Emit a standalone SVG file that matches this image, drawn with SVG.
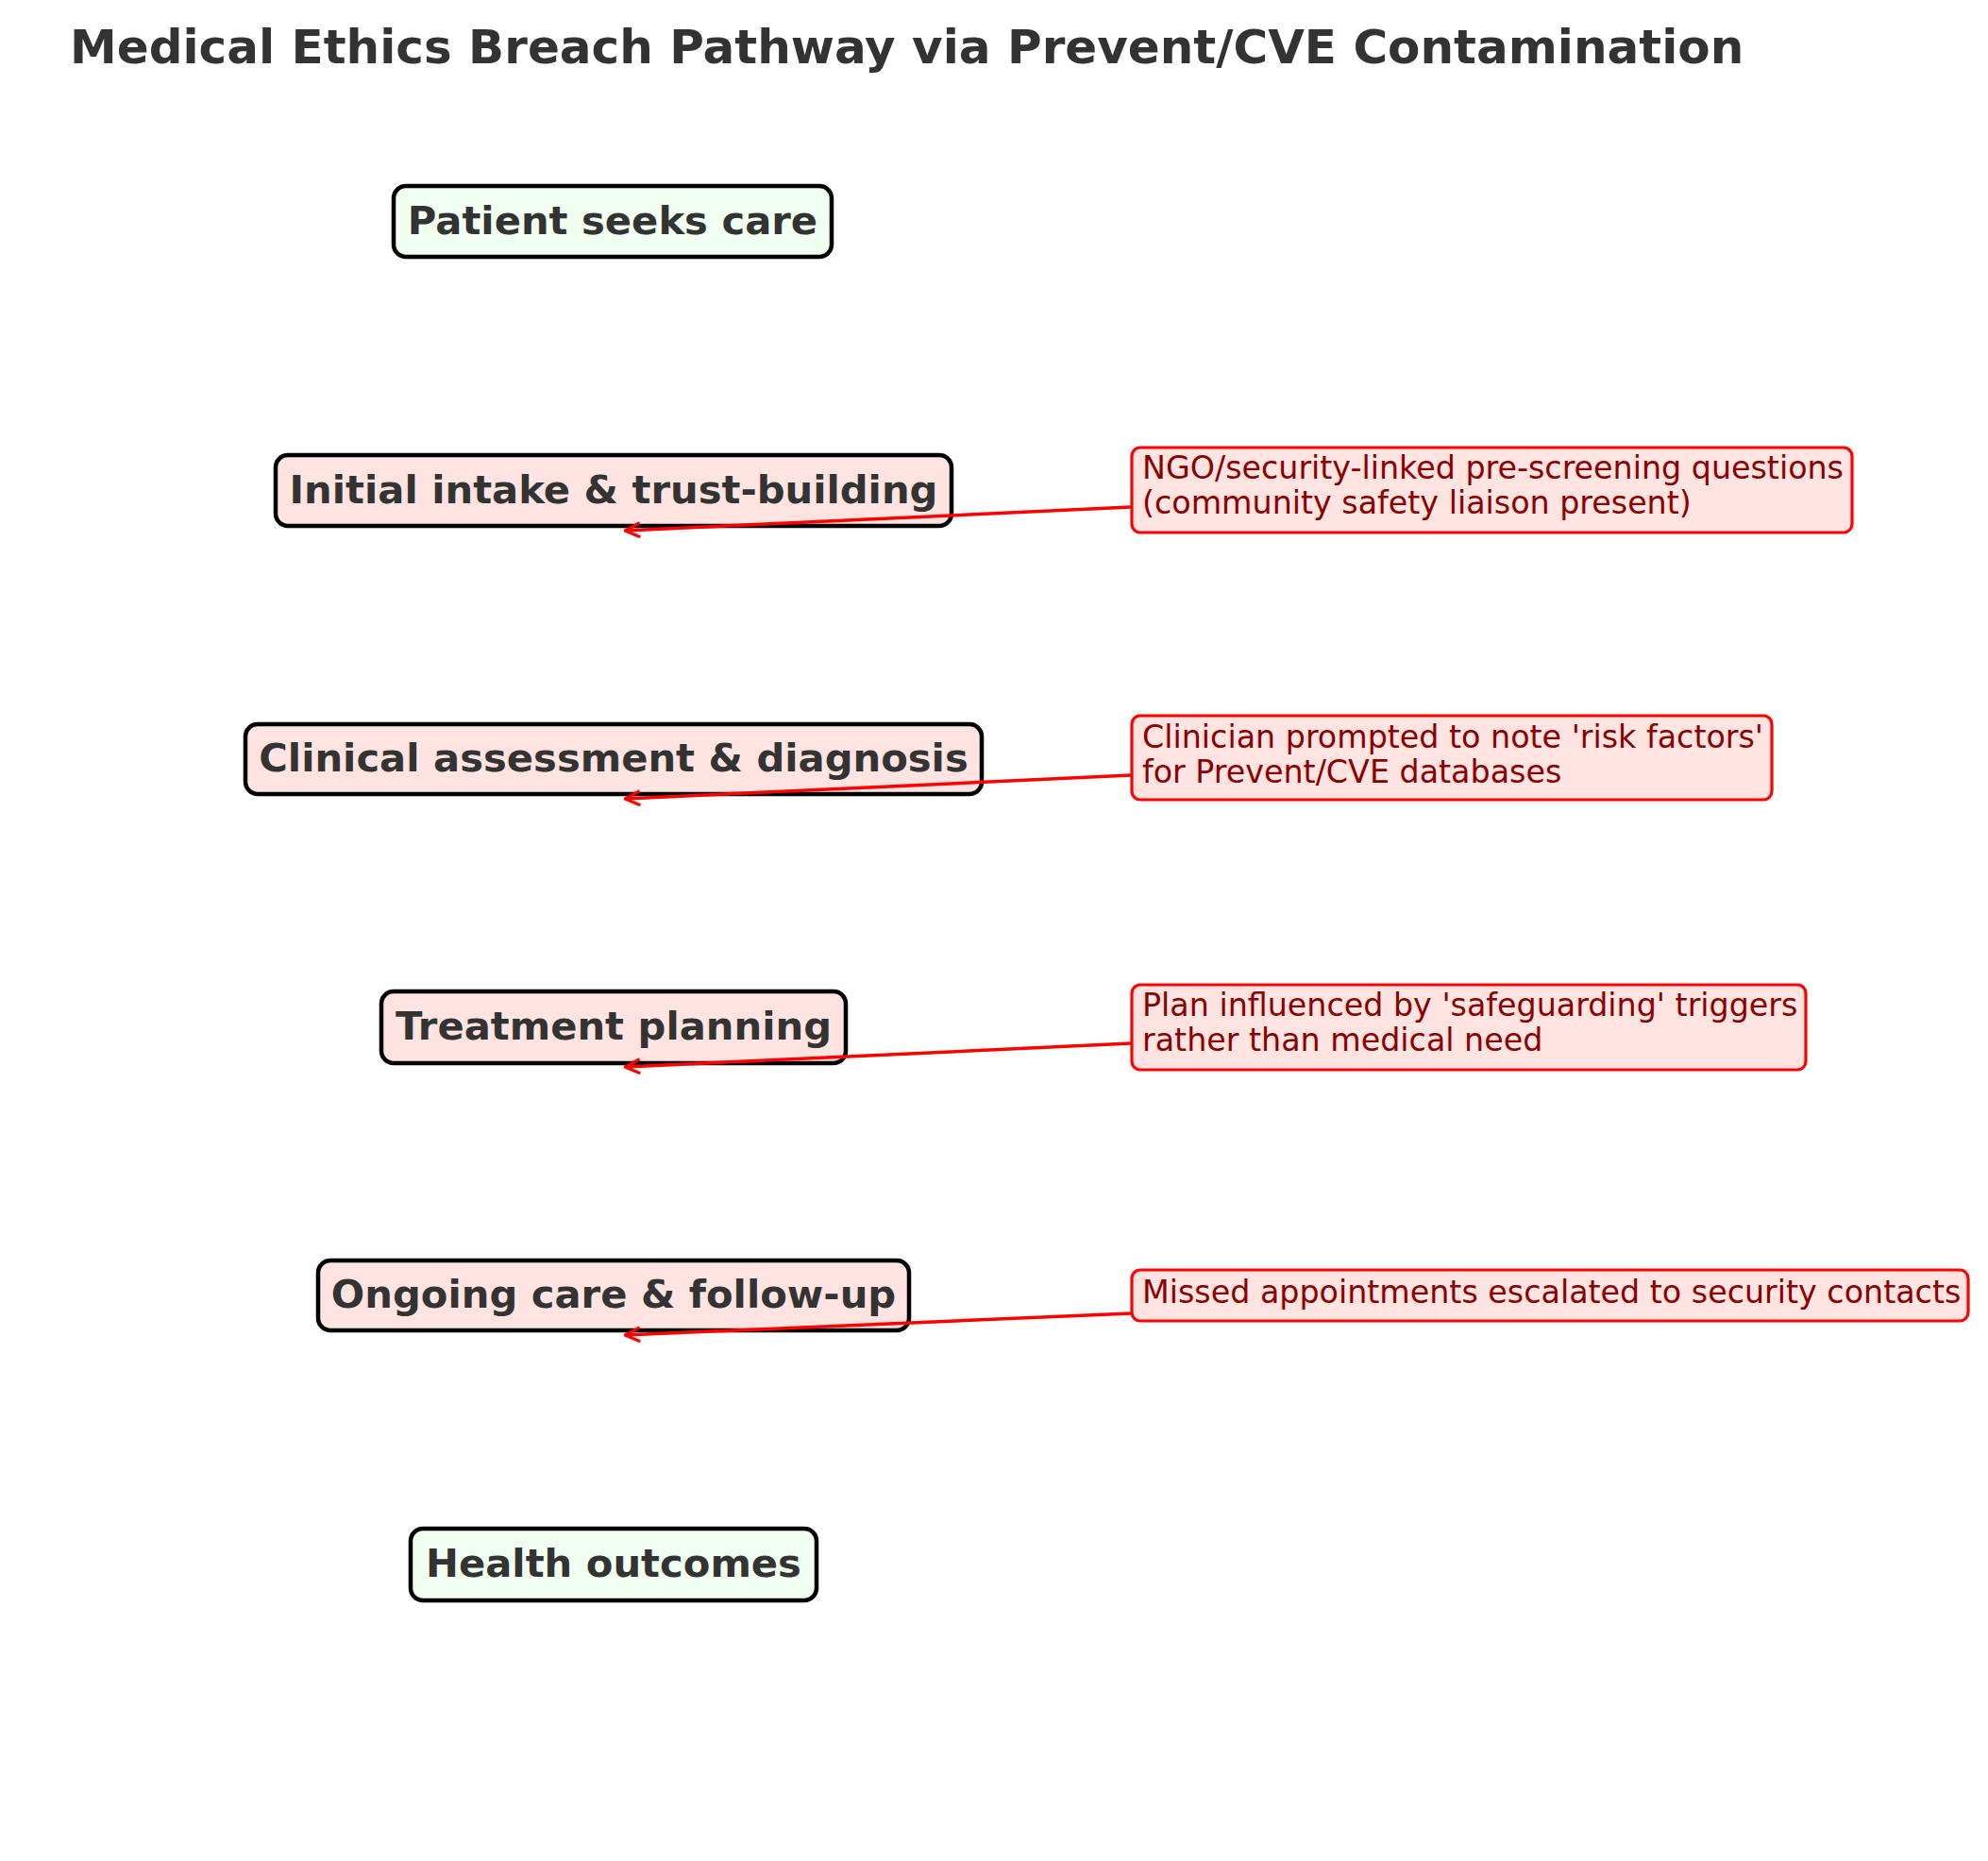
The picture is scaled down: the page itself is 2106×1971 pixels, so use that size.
<svg xmlns="http://www.w3.org/2000/svg" width="2106" height="1971" viewBox="0 0 2106 1971">
<style>
.title{font-family:"DejaVu Sans",sans-serif;font-weight:bold;font-size:50px;fill:#333333}
.node rect{stroke:#000000;stroke-width:4.5}
.green{fill:#f0fff0}
.pink{fill:#ffe4e1}
.node text{font-family:"DejaVu Sans",sans-serif;font-weight:bold;font-size:41.7px;fill:#333333;text-anchor:middle}
.ann rect{fill:#ffe4e1;stroke:#ff0000;stroke-width:3.2}
.ann text{font-family:"DejaVu Sans",sans-serif;font-size:33.3px;fill:#8b0000}
.conn line{stroke:#ff0000;stroke-width:3.5;fill:none}
</style>
<defs>
<marker id="head" viewBox="0 0 18 18" refX="17" refY="9" markerWidth="18" markerHeight="18" markerUnits="userSpaceOnUse" orient="auto">
<path d="M1,1.5 L17,9 L1,16.5" fill="none" stroke="#ff0000" stroke-width="3.2" stroke-linejoin="miter"/>
</marker>
</defs>
<rect x="0" y="0" width="2106" height="1971" fill="#ffffff"/>
<text class="title" x="74" y="67">Medical Ethics Breach Pathway via Prevent/CVE Contamination</text>

<g id="node-patient" class="node">
<rect class="green" x="417" y="197" width="464" height="75" rx="13"/>
<text x="649" y="248">Patient seeks care</text>
</g>
<g id="node-intake" class="node">
<rect class="pink" x="292" y="482" width="716" height="75" rx="13"/>
<text x="650" y="533">Initial intake &amp; trust-building</text>
</g>
<g id="node-assessment" class="node">
<rect class="pink" x="260" y="767" width="780" height="74" rx="13"/>
<text x="650" y="817">Clinical assessment &amp; diagnosis</text>
</g>
<g id="node-treatment" class="node">
<rect class="pink" x="404" y="1050" width="492" height="76" rx="13"/>
<text x="650" y="1101">Treatment planning</text>
</g>
<g id="node-ongoing" class="node">
<rect class="pink" x="337" y="1335" width="626" height="74" rx="13"/>
<text x="650" y="1385">Ongoing care &amp; follow-up</text>
</g>
<g id="node-outcomes" class="node">
<rect class="green" x="435" y="1619" width="430" height="76" rx="13"/>
<text x="650" y="1670">Health outcomes</text>
</g>

<g id="connectors" class="conn">
<line x1="1198" y1="537" x2="662" y2="562" marker-end="url(#head)"/>
<line x1="1198" y1="821" x2="662" y2="846" marker-end="url(#head)"/>
<line x1="1198" y1="1105" x2="662" y2="1130" marker-end="url(#head)"/>
<line x1="1198" y1="1391" x2="662" y2="1414" marker-end="url(#head)"/>
</g>

<g id="ann-intake" class="ann">
<rect x="1199" y="474" width="763" height="90" rx="9"/>
<text x="1210" y="507">NGO/security-linked pre-screening questions</text>
<text x="1210" y="544">(community safety liaison present)</text>
</g>
<g id="ann-assessment" class="ann">
<rect x="1199" y="758" width="678" height="89" rx="9"/>
<text x="1210" y="792">Clinician prompted to note 'risk factors'</text>
<text x="1210" y="829">for Prevent/CVE databases</text>
</g>
<g id="ann-treatment" class="ann">
<rect x="1199" y="1043" width="714" height="90" rx="9"/>
<text x="1210" y="1076">Plan influenced by 'safeguarding' triggers</text>
<text x="1210" y="1113">rather than medical need</text>
</g>
<g id="ann-ongoing" class="ann">
<rect x="1199" y="1345" width="886" height="54" rx="9"/>
<text x="1210" y="1380">Missed appointments escalated to security contacts</text>
</g>
</svg>
